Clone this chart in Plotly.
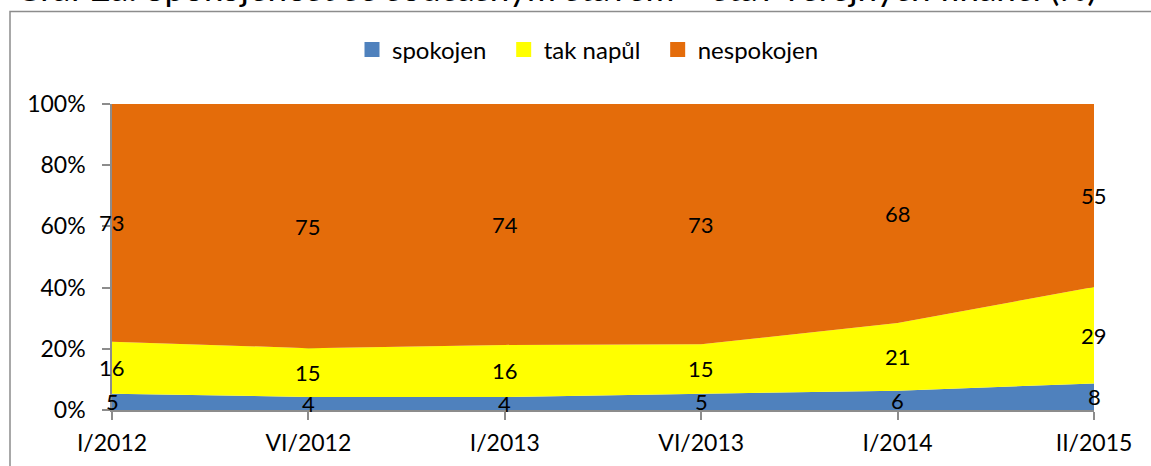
import plotly.graph_objects as go

categories = ["I/2012", "VI/2012", "I/2013", "VI/2013", "I/2014", "II/2015"]
spokojen = [5, 4, 4, 5, 6, 8]
tak_napul = [16, 15, 16, 15, 21, 29]
nespokojen = [73, 75, 74, 73, 68, 55]

series_names = ["spokojen", "tak napůl", "nespokojen"]
series_values = [spokojen, tak_napul, nespokojen]
colors = ["#4F81BD", "#FFFF00", "#E46C0A"]

title_text = "Graf 2a: Spokojenost se současným stavem – stav veřejných financí (%)"

FONT = "Lato"

# plot area in pixels (for converting shapes / title to paper coords)
W, H = 1151, 466
L, R, T, B = 112, 57, 104, 56
pw = W - L - R
ph = H - T - B


def px_x(p):
    return (p - L) / pw


def px_y(p):
    return (H - B - p) / ph


fig = go.Figure()

for name, vals, col in zip(series_names, series_values, colors):
    fig.add_trace(go.Scatter(
        x=categories, y=vals, name=name, mode="lines",
        line=dict(width=0, color=col), fillcolor=col,
        stackgroup="one", groupnorm="percent", showlegend=False,
        hoverinfo="skip",
    ))

# legend entries as squares (a little trailing space to widen the gaps)
for i, (name, col) in enumerate(zip(series_names, colors)):
    pad = "\u00a0\u00a0" if i < len(series_names) - 1 else ""
    fig.add_trace(go.Scatter(
        x=[None], y=[None], name=name + pad, mode="markers",
        marker=dict(symbol="square", size=15, color=col),
    ))

# data labels in the middle of each band
totals = [sum(v) for v in zip(*series_values)]
base = [0.0] * len(categories)
for vals in series_values:
    for i, c in enumerate(categories):
        share = vals[i] / totals[i] * 100
        fig.add_annotation(
            x=c, y=base[i] + share / 2, text=str(vals[i]),
            showarrow=False, font=dict(family=FONT, size=22, color="black"),
        )
        base[i] += share

# cut-off title at the very top
fig.add_annotation(
    xref="paper", yref="paper", x=px_x(13), y=px_y(10.5),
    xanchor="left", yanchor="bottom", text=title_text, showarrow=False,
    font=dict(family=FONT, size=35, color="black"),
)

# chart border (partly outside the window)
fig.add_shape(
    type="rect", xref="paper", yref="paper",
    x0=px_x(10), x1=px_x(1300), y0=px_y(600), y1=px_y(11.5),
    line=dict(color="#8C8C8C", width=1.5), fillcolor="rgba(0,0,0,0)",
    layer="below",
)

fig.update_layout(
    width=W, height=H,
    margin=dict(l=L, r=R, t=T, b=B, autoexpand=False),
    paper_bgcolor="white", plot_bgcolor="white",
    font=dict(family=FONT, size=23, color="black"),
    legend=dict(
        orientation="h", x=px_x(588), xanchor="center", y=px_y(50), yanchor="middle",
        font=dict(family=FONT, size=24), itemwidth=30, tracegroupgap=0,
        traceorder="normal",
    ),
    xaxis=dict(
        type="category", range=[0, len(categories) - 1],
        showline=True, linecolor="#8C8C8C", linewidth=1.5,
        ticks="outside", ticklen=8, tickcolor="#8C8C8C", tickwidth=1.5,
        showgrid=False, zeroline=False, ticklabelstandoff=4,
    ),
    yaxis=dict(
        range=[0, 100], dtick=20, ticksuffix="%",
        showline=True, linecolor="#8C8C8C", linewidth=1.5, mirror=False,
        ticks="outside", ticklen=8, tickcolor="#8C8C8C", tickwidth=1.5,
        showgrid=True, gridcolor="#8C8C8C", zeroline=False,
        ticklabelstandoff=12,
    ),
)

# page body has an 8px default margin; drop it so the chart sits at the window corner
fig.write_html(
    "out.html",
    config={"displayModeBar": False},
    post_script="document.body.style.margin='0';",
)
